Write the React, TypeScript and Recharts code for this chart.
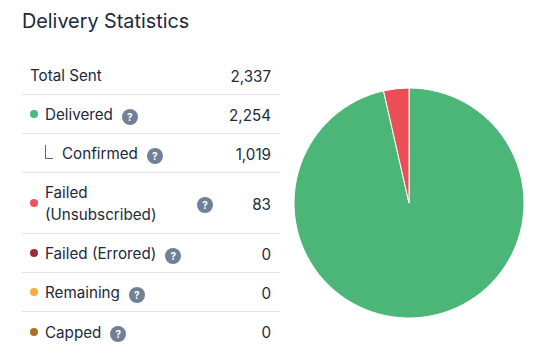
import { Cell, Pie, PieChart } from 'recharts';

const labels = ['Total Sent', 'Delivered', 'Confirmed', 'Failed (Unsubscribed)', 'Failed (Errored)', 'Remaining', 'Capped'];
const values = [2337, 2254, 1019, 83, 0, 0, 0];
const dotColors = ['', '#48bb78', '', '#f0525a', '#9b2c35', '#f6ad3f', '#ab6f2b'];
const hasHelp = [false, true, true, true, true, true, true];

const sliceNames = ['Delivered', 'Failed (Unsubscribed)'];
const sliceValues = [2254, 83];
const sliceColors = ['#4cb678', '#e94f55'];

const textColor = '#1a2a3c';
const fontFamily = 'Inter, sans-serif';

function HelpIcon() {
  return (
    <span
      style={{
        display: 'inline-block',
        width: 16,
        height: 16,
        borderRadius: 8,
        background: '#718096',
        color: '#fff',
        fontSize: 10,
        fontWeight: 700,
        lineHeight: '16px',
        textAlign: 'center',
        flex: 'none',
      }}
    >
      ?
    </span>
  );
}

function StatRow({ index }: { index: number }) {
  const isLast = index === labels.length - 1;
  const isChild = labels[index] === 'Confirmed';
  const isWrapped = labels[index] === 'Failed (Unsubscribed)';
  const height = isWrapped ? 61 : 39;

  return (
    <div
      style={{
        position: 'relative',
        height,
        boxSizing: 'border-box',
        borderBottom: isLast ? 'none' : '1px solid #e2e5e9',
        display: 'flex',
        alignItems: 'center',
        paddingLeft: 8,
        paddingRight: 9,
        paddingTop: 2,
      }}
    >
      {dotColors[index] && (
        <span
          style={{
            width: 8,
            height: 8,
            borderRadius: 4,
            background: dotColors[index],
            marginRight: 7,
            marginTop: -2,
            flex: 'none',
          }}
        />
      )}
      {isChild && (
        <span
          style={{
            width: 8,
            height: 14,
            borderLeft: '1px solid #5a6b7d',
            borderBottom: '1px solid #5a6b7d',
            marginLeft: 15,
            marginRight: 9,
            marginTop: -4,
            flex: 'none',
            boxSizing: 'border-box',
          }}
        />
      )}
      <span style={{ width: isWrapped ? 152 : undefined, marginRight: isWrapped ? 0 : 9, lineHeight: '22px' }}>
        {isWrapped ? (
          <>
            Failed
            <br />
            (Unsubscribed)
          </>
        ) : (
          labels[index]
        )}
      </span>
      {hasHelp[index] && (
        <span style={{ marginTop: isWrapped ? 2 : 3, display: 'flex' }}>
          <HelpIcon />
        </span>
      )}
      <span style={{ marginLeft: 'auto' }}>{values[index].toLocaleString('en-US')}</span>
    </div>
  );
}

export default function App() {
  const pieData = sliceNames.map((name, i) => ({ name, value: sliceValues[i] }));

  return (
    <div
      style={{
        position: 'fixed',
        left: 0,
        top: 0,
        width: 555,
        height: 354,
        background: '#fff',
        color: textColor,
        fontFamily,
        fontSize: 15.2,
        overflow: 'hidden',
      }}
    >
      <div style={{ position: 'absolute', left: 22, top: 8, fontSize: 19.8, fontWeight: 400, lineHeight: '26px' }}>
        Delivery Statistics
      </div>

      <div style={{ position: 'absolute', left: 22, top: 56, width: 258 }}>
        {labels.map((_, i) => (
          <StatRow key={labels[i]} index={i} />
        ))}
      </div>

      <div style={{ position: 'absolute', left: 289, top: 83 }}>
        <PieChart width={240} height={240} margin={{ top: 0, right: 0, bottom: 0, left: 0 }}>
          <Pie
            data={pieData}
            dataKey="value"
            cx={120}
            cy={120}
            innerRadius={0}
            outerRadius={115}
            startAngle={90}
            endAngle={-270}
            paddingAngle={0}
            stroke="#fff"
            strokeWidth={1}
            isAnimationActive={false}
          >
            {pieData.map((entry, index) => (
              <Cell key={entry.name} fill={sliceColors[index]} />
            ))}
          </Pie>
        </PieChart>
      </div>
    </div>
  );
}
